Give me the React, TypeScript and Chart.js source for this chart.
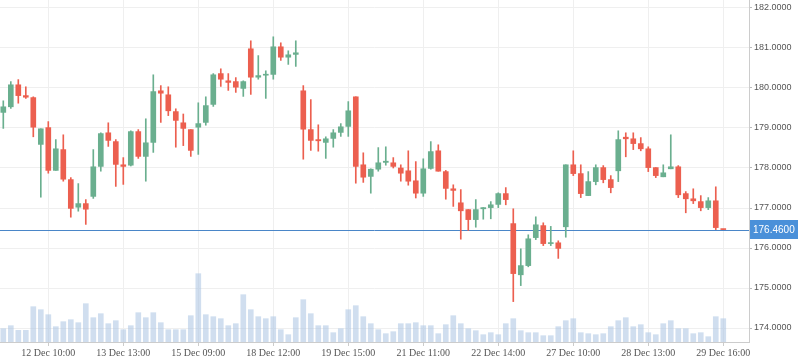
import React, { useEffect, useRef } from "react";
import { Chart, registerables } from "chart.js";

Chart.register(...registerables);

const opens = [179.39,179.53,180.08,179.81,179.76,178.59,179.01,177.94,178.46,177.71,177.02,177.11,177.29,178.04,178.88,178.66,178.08,178.07,178.91,178.29,178.64,179.93,179.83,179.41,179.13,178.96,179.02,179.14,179.59,180.36,180.18,180.16,179.99,180.98,180.27,180.32,180.34,181.03,180.77,180.84,179.93,178.96,178.71,178.64,178.74,178.89,179.04,179.78,178.08,177.79,177.97,178.14,178.13,178.0,177.93,177.68,177.37,177.99,178.43,177.91,177.48,177.13,176.96,176.71,176.98,177.01,177.09,177.36,176.61,175.33,175.56,176.26,176.56,176.11,176.13,176.53,178.08,177.86,177.31,177.66,178.01,177.71,177.93,178.77,178.73,178.61,178.48,178.01,177.78,177.98,178.03,177.36,177.23,177.16,177.01,177.18,176.47];
const highs = [179.68,180.16,180.21,180.03,179.78,178.98,179.16,178.71,178.83,177.76,177.61,177.21,178.46,178.88,179.13,178.71,178.26,178.93,178.96,179.23,180.33,180.06,180.03,179.48,179.35,178.96,179.63,179.78,180.36,180.48,180.36,180.26,180.18,181.18,180.81,180.43,181.28,181.13,180.93,181.18,180.06,179.71,179.08,178.78,178.96,179.11,179.66,179.78,178.38,177.98,178.51,178.53,178.26,178.08,178.43,178.16,178.23,178.66,178.58,177.94,177.58,177.46,176.96,177.21,177.01,177.16,177.38,177.51,176.98,175.98,176.33,176.78,176.63,176.54,176.18,178.08,178.43,178.08,177.91,178.08,178.06,177.81,178.93,178.88,178.88,178.76,178.53,178.01,178.08,178.83,178.06,177.41,177.48,177.31,177.26,177.53,176.47];
const lows = [178.99,179.49,179.62,179.74,178.78,177.27,177.87,177.94,177.67,176.77,176.92,176.59,177.24,177.92,178.54,177.54,177.59,178.05,178.24,177.67,178.39,179.14,179.31,178.52,178.56,178.29,178.34,179.07,179.54,180.04,179.94,179.89,179.79,179.84,180.22,179.74,180.22,180.69,180.59,180.54,178.22,178.44,178.42,178.24,178.52,178.79,178.79,177.62,177.64,177.37,177.92,178.07,178.0,177.67,177.57,177.25,177.29,177.97,177.92,177.22,177.04,176.22,176.44,176.52,176.72,176.73,177.01,177.08,174.66,175.06,175.53,176.21,176.06,176.06,175.74,176.27,177.81,177.26,177.31,177.58,177.63,177.38,177.66,178.28,178.46,178.43,177.91,177.76,177.78,177.98,177.26,176.88,177.11,176.93,176.96,176.46,176.46];
const closes = [179.53,180.08,179.81,179.77,179.02,178.98,177.94,178.48,177.72,176.99,177.11,176.97,178.03,178.86,178.69,178.09,178.04,178.91,178.29,178.63,179.91,179.87,179.43,179.19,178.99,178.44,179.11,179.56,180.33,180.22,180.14,180.02,180.16,180.27,180.31,180.34,181.03,180.77,180.83,180.88,178.97,178.69,178.68,178.73,178.88,179.03,179.43,178.04,177.77,177.97,178.13,178.17,178.04,177.87,177.67,177.37,177.98,178.41,177.92,177.49,177.44,176.93,176.71,176.96,177.01,177.08,177.36,177.21,175.36,175.56,176.23,176.58,176.11,176.13,175.99,178.08,177.86,177.36,177.66,178.01,177.71,177.51,178.71,178.73,178.61,178.48,178.01,177.81,177.88,178.03,177.33,177.23,177.18,177.01,177.18,176.51,176.46];
const volumes = [40,49,35,35,106,97,82,46,61,67,58,115,73,85,55,64,37,49,88,73,88,58,37,37,37,79,205,82,76,70,49,55,142,97,76,70,76,37,22,73,127,85,49,49,28,40,97,109,76,55,37,25,31,55,55,58,49,49,25,52,79,55,40,34,22,28,22,55,70,34,28,28,19,19,46,64,70,28,25,22,25,46,64,73,46,52,28,22,55,64,40,40,25,28,16,76,70];

const xTickIndex = [6,16,26,36,46,56,66,76,86,96];
const xTickLabels = ["12 Dec 10:00","13 Dec 13:00","15 Dec 09:00","18 Dec 12:00","19 Dec 15:00","21 Dec 11:00","22 Dec 14:00","27 Dec 10:00","28 Dec 13:00","29 Dec 16:00"];
const yTickValues = [174,175,176,177,178,179,180,181,182];

const GREEN = "#6aaf8f";
const RED = "#ec5f4f";
const VOL = "rgba(170,195,226,0.55)";

const lastPrice = closes[closes.length - 1];

const priceLinePlugin = {
  id: "priceLine",
  beforeDatasetsDraw(chart: any) {
    const { ctx, chartArea, scales } = chart;
    const py = Math.round(scales.y.getPixelForValue(lastPrice)) + 0.5;
    ctx.save();
    ctx.strokeStyle = "#4a86c8";
    ctx.lineWidth = 1;
    ctx.beginPath();
    ctx.moveTo(chartArea.left, py);
    ctx.lineTo(chartArea.right, py);
    ctx.stroke();
    ctx.restore();
  },
  afterDraw(chart: any) {
    const { ctx, chartArea, scales, width } = chart;
    const py = Math.round(scales.y.getPixelForValue(lastPrice));
    ctx.save();
    ctx.fillStyle = "#4a90d9";
    ctx.fillRect(chartArea.right + 1, py - 10, width - chartArea.right - 1, 19);
    ctx.fillStyle = "#ffffff";
    ctx.font = "10px 'Liberation Sans', Arial, sans-serif";
    ctx.textBaseline = "middle";
    ctx.textAlign = "left";
    ctx.fillText(lastPrice.toFixed(4), chartArea.right + 4, py);
    ctx.restore();
  },
};

export default function App() {
  const ref = useRef<HTMLCanvasElement | null>(null);
  useEffect(() => {
    document.body.style.margin = "0";
    const canvas = ref.current!;
    const idx = opens.map((_, i) => i);
    const colors = idx.map((i) => (closes[i] >= opens[i] ? GREEN : RED));
    const chart = new Chart(canvas, {
      type: "bar",
      data: {
        datasets: [
          {
            label: "body",
            data: idx.map((i) => ({ x: i, y: [opens[i], closes[i]] })) as any,
            backgroundColor: colors,
            barThickness: 5,
            minBarLength: 1,
            grouped: false,
            yAxisID: "y",
          } as any,
          {
            label: "wick",
            data: idx.map((i) => ({ x: i, y: [lows[i], highs[i]] })) as any,
            backgroundColor: colors,
            barThickness: 1,
            grouped: false,
            yAxisID: "y",
          } as any,
          {
            label: "volume",
            data: idx.map((i) => ({ x: i, y: volumes[i] })) as any,
            backgroundColor: VOL,
            barThickness: 5,
            grouped: false,
            yAxisID: "yv",
          } as any,
        ],
      },
      options: {
        animation: false,
        responsive: false,
        devicePixelRatio: 1,
        events: [],
        layout: { padding: 0 },
        plugins: { legend: { display: false }, tooltip: { enabled: false } },
        scales: {
          x: {
            type: "linear",
            min: -0.44,
            max: 99.43,
            offset: false,
            grid: { color: "#efefef", tickLength: 4, tickColor: "#cccccc", offset: false },
            border: { color: "#cccccc" },
            ticks: {
              autoSkip: false,
              maxRotation: 0,
              padding: 1,
              color: "#555555",
              font: { family: "'Liberation Serif', 'Times New Roman', serif", size: 10 },
              callback: (_v: any, i: number) => xTickLabels[i],
            },
            afterBuildTicks: (s: any) => {
              s.ticks = xTickIndex.map((v) => ({ value: v }));
            },
            afterFit: (s: any) => {
              s.height = 21;
              s.paddingLeft = 0;
              s.paddingRight = 0;
            },
          } as any,
          y: {
            type: "linear",
            position: "right",
            min: 173.65,
            max: 182.2,
            grid: { color: "#efefef", tickLength: 3, tickColor: "#bbbbbb" },
            border: { color: "#cccccc" },
            ticks: {
              padding: 2,
              color: "#555555",
              font: { family: "'Liberation Sans', Arial, sans-serif", size: 9 },
              callback: (v: any) => Number(v).toFixed(4),
            },
            afterBuildTicks: (s: any) => {
              s.ticks = yTickValues.map((v) => ({ value: v }));
            },
            afterFit: (s: any) => {
              s.width = 49;
              s.paddingTop = 0;
              s.paddingBottom = 0;
            },
          } as any,
          yv: {
            type: "linear",
            display: false,
            min: 0,
            max: 1026,
          },
        },
      },
      plugins: [priceLinePlugin],
    });
    return () => chart.destroy();
  }, []);
  return (
    <div style={{ width: 798, height: 363 }}>
      <canvas ref={ref} width={798} height={363} style={{ display: "block" }} />
    </div>
  );
}
